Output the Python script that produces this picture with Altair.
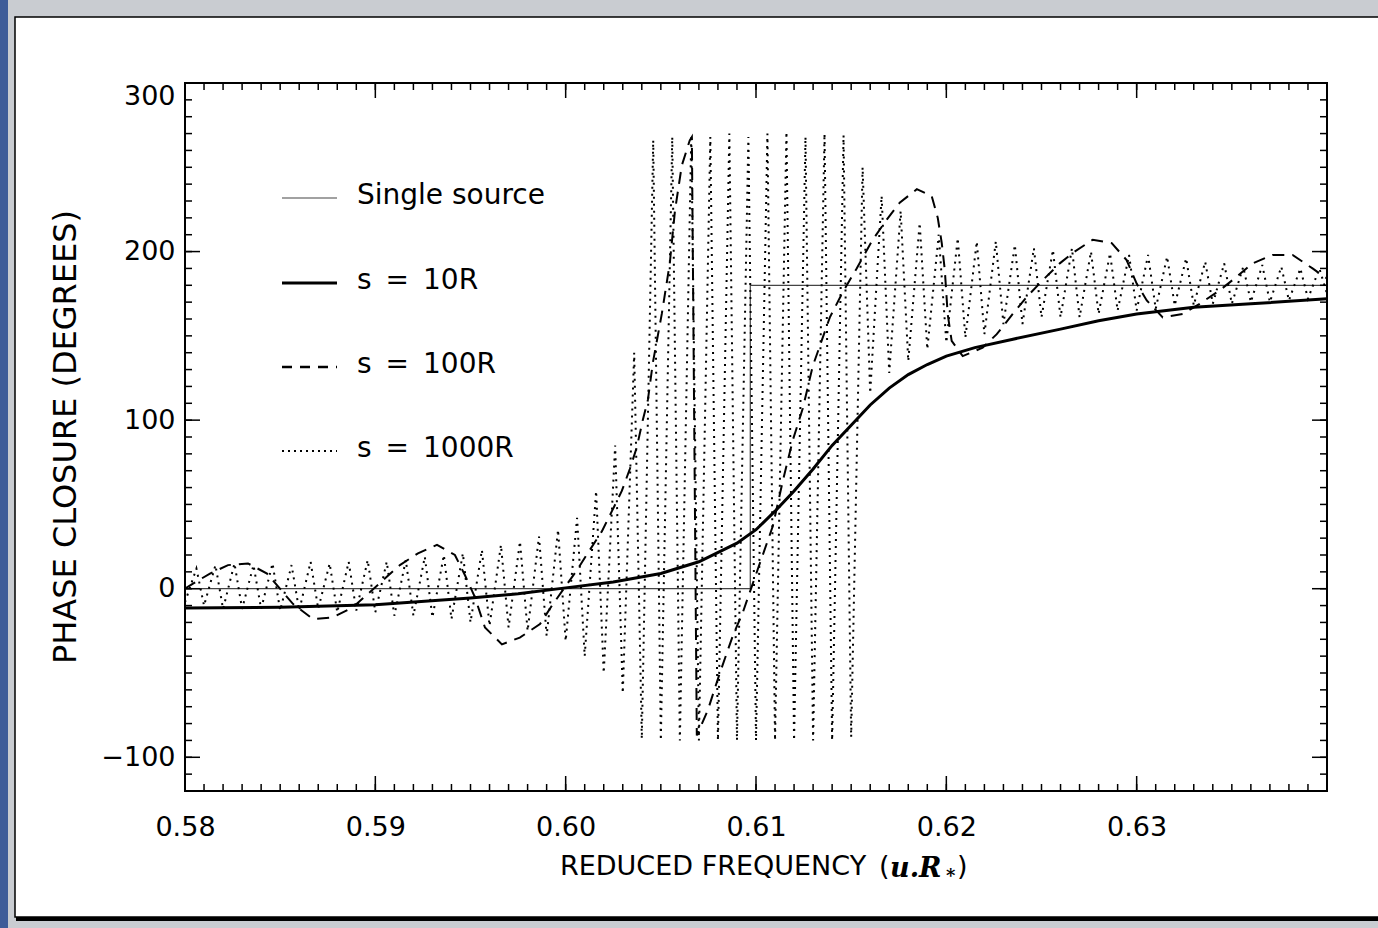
import altair as alt
import pandas as pd

# ---------------- data ----------------
SOURCE_X = [0.5800, 0.6097, 0.6097, 0.6400]
SOURCE_Y = [0, 0, 180, 180]

SOLID_X = [0.5800, 0.5850, 0.5900, 0.5950, 0.5975, 0.6000, 0.6025, 0.6050, 0.6070, 0.6090,
           0.6100, 0.6110, 0.6120, 0.6130, 0.6140, 0.6150, 0.6160, 0.6170, 0.6180, 0.6190,
           0.6200, 0.6215, 0.6235, 0.6260, 0.6280, 0.6300, 0.6330, 0.6360, 0.6400]
SOLID_Y = [-11.5, -11, -9.5, -5.5, -3, 0.5, 4, 9, 16, 27,
           35, 46, 58, 71, 85, 97, 109, 119, 127, 133,
           138, 143, 148, 154, 159, 163, 167, 169, 172]

DASH_X = [0.58000, 0.58042, 0.58131, 0.58226, 0.58331, 0.58431, 0.58499, 0.58567, 0.58672, 0.58777,
          0.58882, 0.58972, 0.59040, 0.59129, 0.59224, 0.59324, 0.59418, 0.59471, 0.59523, 0.59576,
          0.59665, 0.59759, 0.59865, 0.59928, 0.60059, 0.60127, 0.60190, 0.60243, 0.60295, 0.60337,
          0.60374, 0.60405, 0.60432, 0.60458, 0.60505, 0.60547, 0.60574, 0.60610, 0.60652, 0.60663,
          0.60689, 0.60747, 0.60810, 0.60878, 0.60931, 0.60983, 0.61020, 0.61088, 0.61141, 0.61193,
          0.61246, 0.61298, 0.61388, 0.61456, 0.61529, 0.61613, 0.61687, 0.61755, 0.61845, 0.61923,
          0.61955, 0.61976, 0.61992, 0.62007, 0.62028, 0.62086, 0.62191, 0.62265, 0.62349, 0.62422,
          0.62506, 0.62596, 0.62674, 0.62769, 0.62869, 0.62947, 0.63000, 0.63053, 0.63137, 0.63242,
          0.63331, 0.63436, 0.63525, 0.63609, 0.63714, 0.63819, 0.63924, 0.64000]
DASH_Y = [0, 3, 9, 14, 15, 9, 0, -9, -18, -17,
          -11, -2, 5, 14, 21, 26, 20, 8, -5, -23,
          -33, -29, -21, -10, 11, 23, 34, 46, 58, 71,
          84, 100, 112, 134, 163, 193, 224, 251, 266, 268,
          -87, -72, -50, -28, -14, 3, 15, 37, 64, 88,
          107, 132, 161, 176, 190, 207, 219, 229, 237, 233,
          220, 205, 189, 163, 147, 138, 143, 151, 163, 173,
          183, 193, 200, 207, 205, 195, 181, 171, 161, 163,
          169, 177, 185, 193, 198, 198, 190, 184]

DOT_TROUGH_X = [0.5800, 0.5810, 0.5820, 0.5830, 0.5840, 0.5850, 0.5860, 0.5870, 0.5880, 0.5890,
                0.5900, 0.5910, 0.5920, 0.5930, 0.5940, 0.5950, 0.5960, 0.5970, 0.5980, 0.5990,
                0.6000, 0.6010, 0.6020, 0.6030, 0.6040, 0.6050, 0.6060, 0.6070, 0.6080, 0.6090,
                0.6100, 0.6110, 0.6120, 0.6130, 0.6140, 0.6150, 0.6160, 0.6170, 0.6180, 0.6190,
                0.6200, 0.6210, 0.6220, 0.6230, 0.6240, 0.6250, 0.6260, 0.6270, 0.6280, 0.6290,
                0.6300, 0.6310, 0.6320, 0.6330, 0.6340, 0.6350, 0.6360, 0.6370, 0.6380, 0.6390,
                0.6400]
DOT_TROUGH_Y = [-8, -10, -12, -12, -12, -13, -13, -12, -14, -13,
                -14, -16, -16, -17, -18, -20, -22, -23, -25, -28,
                -31, -40, -50, -62, -89, -90, -90, -90, -90, -90,
                -90, -90, -90, -90, -90, -88, 116, 128, 135, 142,
                146, 149, 151, 157, 157, 161, 161, 161, 163, 165,
                165, 166, 168, 168, 169, 169, 170, 170, 171, 172,
                175]
DOT_PEAK_X = [0.5806, 0.5816, 0.5826, 0.5836, 0.5846, 0.5856, 0.5866, 0.5876, 0.5886, 0.5896,
              0.5906, 0.5916, 0.5926, 0.5936, 0.5946, 0.5956, 0.5966, 0.5976, 0.5986, 0.5996,
              0.6006, 0.6016, 0.6026, 0.6036, 0.6046, 0.6056, 0.6066, 0.6076, 0.6086, 0.6096,
              0.6106, 0.6116, 0.6126, 0.6136, 0.6146, 0.6156, 0.6166, 0.6176, 0.6186, 0.6196,
              0.6206, 0.6216, 0.6226, 0.6236, 0.6246, 0.6256, 0.6266, 0.6276, 0.6286, 0.6296,
              0.6306, 0.6316, 0.6326, 0.6336, 0.6346, 0.6356, 0.6366, 0.6376, 0.6386, 0.6396]
DOT_PEAK_Y = [12, 14, 15, 14, 15, 14, 16, 15, 16, 17,
              16, 17, 19, 20, 21, 23, 26, 28, 31, 35,
              42, 58, 85, 140, 266, 268, 269, 268, 270, 268,
              270, 271, 268, 270, 269, 250, 233, 224, 217, 210,
              208, 206, 206, 204, 202, 201, 202, 200, 199, 198,
              198, 197, 196, 194, 193, 191, 192, 191, 190, 190]

X_MAJOR = [0.58, 0.59, 0.60, 0.61, 0.62, 0.63]
Y_MAJOR = [-100, 0, 100, 200, 300]
X_MINOR = [round(0.58 + i * 0.001, 3) for i in range(61)]
Y_MINOR = list(range(-110, 301, 10))

LEGEND_LABELS = ["Single source", "s\u2002=\u200210R", "s\u2002=\u2002100R", "s\u2002=\u20021000R"]

# ---------------- tables ----------------
def seq(xs, ys):
    return pd.DataFrame({"x": xs, "y": ys, "i": list(range(len(xs)))})

dot_x, dot_y = [], []
for k in range(len(DOT_PEAK_X)):
    dot_x += [DOT_TROUGH_X[k], DOT_PEAK_X[k]]
    dot_y += [DOT_TROUGH_Y[k], DOT_PEAK_Y[k]]
dot_x.append(DOT_TROUGH_X[-1])
dot_y.append(DOT_TROUGH_Y[-1])

src_df = seq(SOURCE_X, SOURCE_Y)
solid_df = seq(SOLID_X, SOLID_Y)
dash_df = seq(DASH_X, DASH_Y)
dot_df = seq(dot_x, dot_y)

W, H = 1142, 708
FONT = "DejaVu Sans"

xs = alt.Scale(domain=[0.58, 0.64], nice=False, zero=False)
ys = alt.Scale(domain=[-120, 300], nice=False, zero=False)
xaxis = alt.Axis(values=X_MAJOR, format=".2f", labelFontSize=27, labelFont=FONT, labelColor="black",
                 labelPadding=23, ticks=False, domain=False, grid=False, title=None, zindex=2,
                 labelFlush=False)
yaxis = alt.Axis(values=Y_MAJOR, labelFontSize=27, labelFont=FONT, labelColor="black",
                 labelPadding=10, ticks=False, domain=False, grid=False, title=None, zindex=2,
                 labelFlush=True)
X = alt.X("x:Q", scale=xs, axis=xaxis)
Y = alt.Y("y:Q", scale=ys, axis=yaxis)

one = pd.DataFrame({"a": [0]})
layers = []

# page frame (screen-capture look)
layers.append(alt.Chart(one).mark_rect(fill="#c9ccd1").encode(
    x=alt.value(-185), x2=alt.value(1193), y=alt.value(-83), y2=alt.value(845)))
layers.append(alt.Chart(one).mark_rect(fill="#3e5c99").encode(
    x=alt.value(-185), x2=alt.value(-177), y=alt.value(-83), y2=alt.value(845)))
layers.append(alt.Chart(one).mark_rect(fill="white", stroke="black", strokeWidth=1.5).encode(
    x=alt.value(-170), x2=alt.value(1200), y=alt.value(-66), y2=alt.value(834)))
layers.append(alt.Chart(one).mark_rule(color="black", strokeWidth=4).encode(
    x=alt.value(-169), x2=alt.value(1200), y=alt.value(836)))

# curves
layers.append(alt.Chart(src_df).mark_line(color="#444444", strokeWidth=1.2).encode(
    x=X, y=Y, order="i:Q"))
layers.append(alt.Chart(dot_df).mark_line(color="black", strokeWidth=2, strokeDash=[2, 5]).encode(
    x=X, y=Y, order="i:Q"))
layers.append(alt.Chart(dash_df).mark_line(color="black", strokeWidth=2, strokeDash=[12, 8]).encode(
    x=X, y=Y, order="i:Q"))
layers.append(alt.Chart(solid_df).mark_line(color="black", strokeWidth=3).encode(
    x=X, y=Y, order="i:Q"))

# ticks (inward, on all four sides)
xmaj = pd.DataFrame({"x": X_MAJOR})
xmin = pd.DataFrame({"x": X_MINOR})
ymaj = pd.DataFrame({"y": Y_MAJOR})
ymin = pd.DataFrame({"y": Y_MINOR})
for df, ln in ((xmaj, 15), (xmin, 7)):
    layers.append(alt.Chart(df).mark_rule(color="black", strokeWidth=1.5).encode(
        x=X, y=alt.value(H), y2=alt.value(H - ln)))
    layers.append(alt.Chart(df).mark_rule(color="black", strokeWidth=1.5).encode(
        x=X, y=alt.value(0), y2=alt.value(ln)))
for df, ln in ((ymaj, 15), (ymin, 7)):
    layers.append(alt.Chart(df).mark_rule(color="black", strokeWidth=1.5).encode(
        y=Y, x=alt.value(0), x2=alt.value(ln)))
    layers.append(alt.Chart(df).mark_rule(color="black", strokeWidth=1.5).encode(
        y=Y, x=alt.value(W), x2=alt.value(W - ln)))

# plot box
layers.append(alt.Chart(one).mark_rect(fill="white", fillOpacity=0, stroke="black", strokeWidth=2).encode(
    x=alt.value(0), x2=alt.value(W), y=alt.value(0), y2=alt.value(H)))

# legend
leg_styles = [
    dict(color="#444444", strokeWidth=1.2),
    dict(color="black", strokeWidth=3),
    dict(color="black", strokeWidth=2.5, strokeDash=[10, 8]),
    dict(color="black", strokeWidth=2, strokeDash=[2, 4]),
]
leg_y = [115, 200, 284, 368]
for lab, st, yy in zip(LEGEND_LABELS, leg_styles, leg_y):
    layers.append(alt.Chart(one).mark_rule(**st).encode(
        x=alt.value(97), x2=alt.value(152), y=alt.value(yy)))
    layers.append(alt.Chart(one).mark_text(text=lab, align="left", baseline="middle",
                                           font=FONT, fontSize=28, color="black").encode(
        x=alt.value(172), y=alt.value(yy - 2)))

# axis titles
layers.append(alt.Chart(one).mark_text(text="PHASE CLOSURE (DEGREES)", angle=270, align="center",
                                       baseline="middle", font=FONT, fontSize=32, color="black").encode(
    x=alt.value(-119), y=alt.value(354)))
layers.append(alt.Chart(one).mark_text(text="REDUCED FREQUENCY", align="left", baseline="middle",
                                       font=FONT, fontSize=27, color="black").encode(
    x=alt.value(375), y=alt.value(784)))
layers.append(alt.Chart(one).mark_text(text="(", align="left", baseline="middle",
                                       font=FONT, fontSize=27, color="black").encode(
    x=alt.value(694), y=alt.value(784)))
layers.append(alt.Chart(one).mark_text(text="u.R", align="left", baseline="middle",
                                       font="DejaVu Serif", fontStyle="italic", fontWeight="bold",
                                       fontSize=27, color="black").encode(
    x=alt.value(705), y=alt.value(786)))
layers.append(alt.Chart(one).mark_text(text="*", align="left", baseline="middle",
                                       font="DejaVu Serif", fontWeight="bold",
                                       fontSize=18, color="black").encode(
    x=alt.value(761), y=alt.value(794)))
layers.append(alt.Chart(one).mark_text(text=")", align="left", baseline="middle",
                                       font=FONT, fontSize=27, color="black").encode(
    x=alt.value(772), y=alt.value(784)))

chart = alt.layer(*layers).properties(
    width=W, height=H,
    padding={"left": 185, "top": 83, "right": 51, "bottom": 137},
    autosize=alt.AutoSizeParams(type="none"),
).configure(background="#c9ccd1", font=FONT).configure_view(stroke=None)

chart.save("out.html", embed_options={"renderer": "svg", "actions": False})
